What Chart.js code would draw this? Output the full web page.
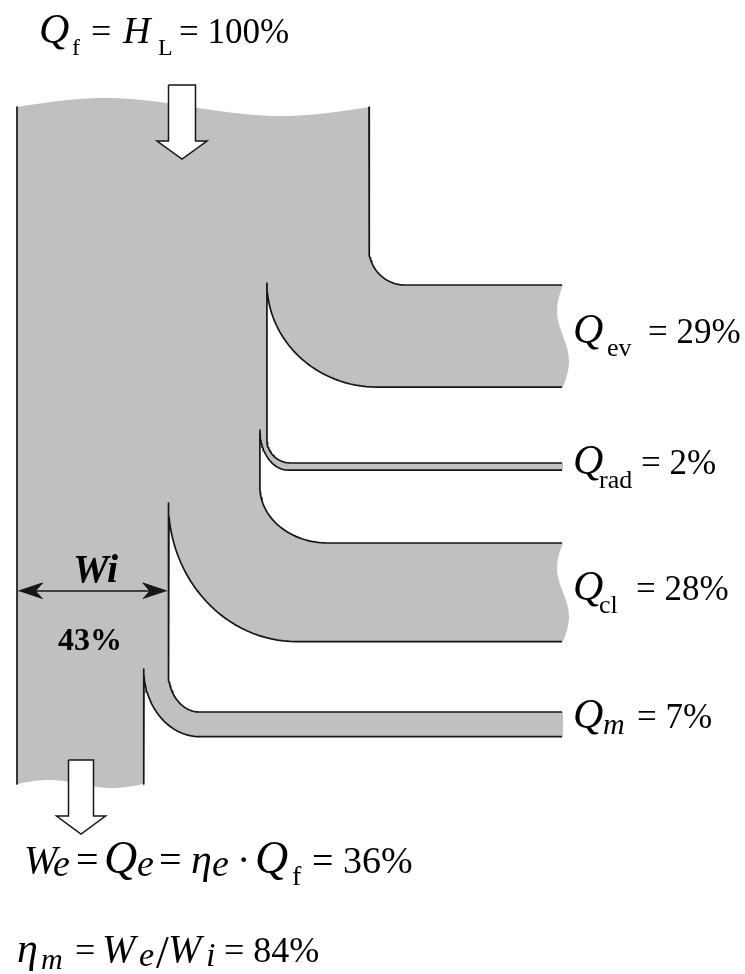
<!DOCTYPE html>
<html>
<head>
<meta charset="utf-8">
<script src="https://cdn.jsdelivr.net/npm/chart.js@4.4.0/dist/chart.umd.min.js"></script>
<style>
  html, body { margin: 0; padding: 0; background: #fff; }
  canvas { display: block; }
</style>
</head>
<body>
<canvas id="sankey" width="745" height="974"></canvas>
<script>
// energy balance, percent of the fuel heat
const fuelHeat = 100;
const lossNames = ['ev', 'rad', 'cl', 'm'];
const lossValues = [29, 2, 28, 7];
const indicatedWork = 43;   // W_i
const effectiveWork = 36;   // W_e
const mechEfficiency = 84;  // eta_m

// trunk width after each split (Q_m is taken from the indicated work)
const trunkWidths = [
  fuelHeat,
  fuelHeat - lossValues[0],
  fuelHeat - lossValues[0] - lossValues[1],
  indicatedWork,
  effectiveWork
];

// layout (pixels)
const K = 3.52;          // px per percent
const X0 = 17;           // left side of the trunk
const BAND_END = 562;
const branchTop = [285, 463, 543, 712];
const cuspY = [283, 430, 503, 669];
const outerRx = [110, 28, 128, 56];
const innerR = [[36, 36], [24, 23], [68, 56], [31, 39]];

const GREY = '#c0c0c0';
const INK = '#161616';
const SERIF = '"Liberation Serif", "Times New Roman", serif';

const edge = j => X0 + K * trunkWidths[j];
const bandBottom = i => branchTop[i] + K * lossValues[i];
const topY = x => 107 - 9 * Math.sin(2 * Math.PI * (x - X0) / (edge(0) - X0));
const botY = x => 784 - 4 * Math.sin(2 * Math.PI * (x - X0) / (edge(4) - X0));

function arc(cx, cy, rx, ry, a0, a1, n = 32) {
  const out = [];
  for (let s = 0; s <= n; s++) {
    const a = a0 + (a1 - a0) * s / n;
    out.push([cx + rx * Math.cos(a), cy + ry * Math.sin(a)]);
  }
  return out;
}

// trunk side going down, bending into the top of branch i
function innerPath(i, startY) {
  const ex = edge(i), top = branchTop[i];
  const [rx, ry] = innerR[i];
  return [[ex, startY], ...arc(ex + rx, top - ry, rx, ry, Math.PI, Math.PI / 2), [BAND_END, top]];
}

// bottom of branch i, coming back to the cusp on the trunk
function outerPath(i) {
  const cx = edge(i + 1), cy = cuspY[i], bottom = bandBottom(i);
  const rx = outerRx[i], ry = bottom - cy;
  return [[BAND_END, bottom], ...arc(cx + rx, cy, rx, ry, Math.PI / 2, Math.PI)];
}

// torn end of a band
function endWave(i) {
  const top = branchTop[i], bottom = bandBottom(i);
  const amp = lossValues[i] > 10 ? 6 : 0;
  const out = [];
  for (let s = 0; s <= 20; s++) {
    const t = s / 20;
    out.push([BAND_END + 1 - amp * Math.sin(2 * Math.PI * t), top + (bottom - top) * t]);
  }
  return out;
}

function xy(pts) { return pts.map(p => ({x: p[0], y: p[1]})); }

// grey outline of the whole flow
const shape = [];
for (let s = 0; s <= 40; s++) {
  const x = X0 + (edge(0) - X0) * s / 40;
  shape.push([x, topY(x)]);
}
shape.push(...innerPath(0, topY(edge(0))));
for (let i = 0; i < 4; i++) {
  shape.push(...endWave(i));
  shape.push(...outerPath(i));
  if (i < 3) shape.push(...innerPath(i + 1, cuspY[i]));
}
for (let s = 0; s <= 30; s++) {
  const x = edge(4) - (edge(4) - X0) * s / 30;
  shape.push([x, botY(x)]);
}

// black edges
const strokes = [
  [[X0, topY(X0)], [X0, botY(X0)]],
  innerPath(0, topY(edge(0)))
];
for (let i = 1; i < 4; i++) strokes.push([...outerPath(i - 1), ...innerPath(i, cuspY[i - 1])]);
strokes.push([...outerPath(3), [edge(4), botY(edge(4))]]);

function downArrow(cx, top, shaftBottom, tip, sh, hh) {
  return [[cx - sh, top], [cx + sh, top], [cx + sh, shaftBottom], [cx + hh, shaftBottom],
          [cx, tip], [cx - hh, shaftBottom], [cx - sh, shaftBottom], [cx - sh, top]];
}

const wiY = 591;
const wiLeft = X0 + 1.5, wiRight = edge(3) - 1.5;
const headL = [[wiLeft, wiY], [wiLeft + 24, wiY - 8], [wiLeft + 17, wiY], [wiLeft + 24, wiY + 8]];
const headR = [[wiRight, wiY], [wiRight - 24, wiY - 8], [wiRight - 17, wiY], [wiRight - 24, wiY + 8]];

const base = {showLine: true, pointRadius: 0, pointHoverRadius: 0, tension: 0, clip: false};
const datasets = [
  Object.assign({}, base, {data: xy(shape), fill: 'shape', backgroundColor: GREY, borderWidth: 0, order: 10}),
  ...strokes.map(s => Object.assign({}, base, {data: xy(s), fill: false, borderColor: INK, borderWidth: 1.7, borderJoinStyle: 'round', order: 5})),
  Object.assign({}, base, {data: xy(downArrow(182, 85, 141, 159, 13.5, 25)), fill: 'shape', backgroundColor: '#fff', borderColor: INK, borderWidth: 1.5, order: 1}),
  Object.assign({}, base, {data: xy(downArrow(81, 760, 816, 834, 12.5, 24.5)), fill: 'shape', backgroundColor: '#fff', borderColor: INK, borderWidth: 1.5, order: 1}),
  Object.assign({}, base, {data: xy([[wiLeft + 10, wiY], [wiRight - 10, wiY]]), fill: false, borderColor: INK, borderWidth: 1.5, order: 0}),
  Object.assign({}, base, {data: xy(headL), fill: 'shape', backgroundColor: INK, borderColor: INK, borderWidth: 1, order: 0}),
  Object.assign({}, base, {data: xy(headR), fill: 'shape', backgroundColor: INK, borderColor: INK, borderWidth: 1, order: 0})
];

// text with subscripts, each run placed at its own x
function rich(ctx, runs) {
  let x = 0;
  for (const r of runs) {
    if (r.x !== undefined) x = r.x;
    ctx.font = r.font;
    ctx.fillText(r.t, x, r.y);
    x += ctx.measureText(r.t).width;
  }
}
const f = (style, size) => `${style} ${size}px ${SERIF}`;

const labelY = [343, 474, 600, 728];
const subY = [356, 488, 613, 734];
const subX = [607, 599, 599, 603];
const eqX = [648, 641, 636, 637];

const textPlugin = {
  id: 'formulas',
  afterDraw(chart) {
    const ctx = chart.ctx;
    ctx.save();
    ctx.fillStyle = '#000';
    ctx.textBaseline = 'alphabetic';
    ctx.textAlign = 'left';

    rich(ctx, [
      {t: 'Q', font: f('italic', 42), x: 39, y: 43},
      {t: 'f', font: f('normal', 24), x: 72, y: 55},
      {t: '=', font: f('normal', 36), x: 91, y: 43},
      {t: 'H', font: f('italic', 38), x: 123, y: 43},
      {t: 'L', font: f('normal', 24), x: 158, y: 55},
      {t: '= ' + fuelHeat + '%', font: f('normal', 35), x: 179, y: 43}
    ]);

    lossNames.forEach((name, i) => {
      rich(ctx, [
        {t: 'Q', font: f('italic', 42), x: 573, y: labelY[i]},
        {t: name, font: f(name === 'm' ? 'italic' : 'normal', name === 'm' ? 30 : 26), x: subX[i], y: subY[i]},
        {t: '= ' + lossValues[i] + '%', font: f('normal', 35), x: eqX[i], y: labelY[i]}
      ]);
    });

    rich(ctx, [{t: 'Wi', font: f('italic bold', 40), x: 73, y: 582}]);
    rich(ctx, [{t: indicatedWork + '%', font: f('bold', 32), x: 58, y: 650}]);

    rich(ctx, [
      {t: 'W', font: f('italic', 40), x: 24, y: 873},
      {t: 'e', font: f('italic', 38), x: 53, y: 876},
      {t: '=', font: f('normal', 40), x: 76, y: 873},
      {t: 'Q', font: f('italic', 46), x: 104, y: 873},
      {t: 'e', font: f('italic', 38), x: 137, y: 876},
      {t: '=', font: f('normal', 40), x: 159, y: 873},
      {t: 'η', font: f('italic', 42), x: 191, y: 873},
      {t: 'e', font: f('italic', 38), x: 212, y: 876},
      {t: '·', font: f('normal', 40), x: 237, y: 873},
      {t: 'Q', font: f('italic', 46), x: 255, y: 873},
      {t: 'f', font: f('normal', 28), x: 292, y: 885},
      {t: '= ' + effectiveWork + '%', font: f('normal', 38), x: 312, y: 873}
    ]);

    rich(ctx, [
      {t: 'η', font: f('italic', 42), x: 17, y: 962},
      {t: 'm', font: f('italic', 30), x: 41, y: 969},
      {t: '=', font: f('normal', 36), x: 75, y: 962},
      {t: 'W', font: f('italic', 40), x: 102, y: 962},
      {t: 'e', font: f('italic', 34), x: 139, y: 966},
      {t: '/', font: f('normal', 46), x: 156, y: 968},
      {t: 'W', font: f('italic', 40), x: 168, y: 962},
      {t: 'i', font: f('italic', 34), x: 206, y: 966},
      {t: '= ' + mechEfficiency + '%', font: f('normal', 36), x: 224, y: 962}
    ]);
    ctx.restore();
  }
};

const chart = new Chart(document.getElementById('sankey'), {
  type: 'scatter',
  data: {datasets: datasets},
  options: {
    responsive: false,
    animation: false,
    events: [],
    layout: {padding: 0},
    scales: {
      x: {type: 'linear', min: 0, max: 745, display: false},
      y: {type: 'linear', min: 0, max: 974, reverse: true, display: false}
    },
    plugins: {legend: {display: false}, tooltip: {enabled: false}}
  },
  plugins: [textPlugin]
});
</script>
</body>
</html>
